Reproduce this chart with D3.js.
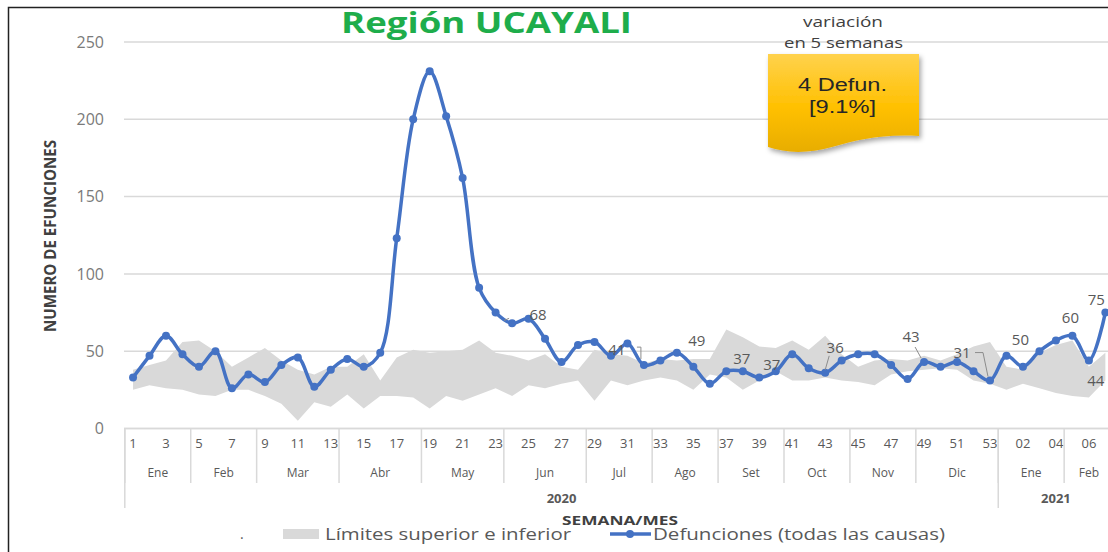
<!DOCTYPE html>
<html>
<head>
<meta charset="utf-8">
<script src="https://cdn.jsdelivr.net/npm/d3@7"></script>
<style>
body { margin: 0; background: #fff; }
svg { font-family: "Open Sans", sans-serif; }
</style>
</head>
<body>
<div id="chart-area"></div>
<script>

// semana epidemiologica (2020: 1-53, 2021: 01-07)
var semanas = ["1","2","3","4","5","6","7","8","9","10","11","12","13","14","15","16","17","18","19","20",
	"21","22","23","24","25","26","27","28","29","30","31","32","33","34","35","36","37","38","39","40",
	"41","42","43","44","45","46","47","48","49","50","51","52","53","01","02","03","04","05","06","07"];

var defunciones = [33,47,60,48,40,50,26,35,30,41, 46,27,38,45,40,49,123,200,231,202,
	162,91,75,68,71,58,43,54,56,47, 55,41,44,49,40,29,37,37,33,37,
	48,39,36,44,48,48,41,32,43,40, 43,37,31,47,40,50,57,60,44,75];

var limiteSuperior = [38,41,44,56,57,50,40,46,52,44, 38,35,40,40,48,31,46,51,49,50,
	51,57,49,47,44,48,40,38,51,48, 47,42,45,44,45,45,64,59,53,52,
	57,51,60,48,40,44,45,44,47,44, 48,53,56,40,38,49,54,57,40,49];

var limiteInferior = [25,28,26,25,22,21,25,25,21,16, 5,17,14,22,13,21,21,20,13,21,
	18,22,26,21,28,26,29,31,18,31, 28,31,33,31,25,35,33,25,31,37,
	31,31,33,31,30,28,35,37,38,39, 38,31,29,25,29,26,23,21,20,31];

var meses = ["Ene","Feb","Mar","Abr","May","Jun","Jul","Ago","Set","Oct","Nov","Dic","Ene","Feb"];
var semanasPorMes = [4,4,5,5,5,5,4,4,4,4,4,5,4,3];

var anios = ["2020","2021"];
var semanasPorAnio = [53,7];

var yTicks = [0,50,100,150,200,250];

// etiquetas de datos (indice de semana)
var etiquetas = [23,31,33,37,39,42,48,52,55,57,58,59];

var width = 1108,
	height = 552;

var svg = d3.select("#chart-area").append("svg")
	.attr("width", width)
	.attr("height", height);

var x = d3.scaleBand()
	.domain(d3.range(semanas.length))
	.range([124.8, 1113.6]);

var y = d3.scaleLinear()
	.domain([0, 250])
	.range([428.5, 42]);

var cx = function(i) { return x(i) + x.bandwidth() / 2; };

// texto estirado horizontalmente como en la imagen original
var addText = function(px, py, txt, size, len, opts) {
	opts = opts || {};
	var t = svg.append("text")
		.attr("x", px).attr("y", py)
		.attr("text-anchor", opts.anchor || "start")
		.attr("fill", opts.fill || "#595959")
		.style("font-size", size + "px")
		.style("font-weight", opts.weight || "normal")
		.text(txt);
	if (opts.family) t.style("font-family", opts.family);
	if (len) t.attr("textLength", len).attr("lengthAdjust", "spacingAndGlyphs");
	return t;
};

// marco
svg.append("rect")
	.attr("x", 8.5).attr("y", 7.5)
	.attr("width", 1120).attr("height", 560)
	.attr("fill", "none")
	.attr("stroke", "#222")
	.attr("stroke-width", 1.5);

// grid
svg.selectAll(".grid")
	.data(yTicks)
	.enter()
	.append("line")
	.attr("class", "grid")
	.attr("x1", 124).attr("x2", 1108)
	.attr("y1", function(d) { return y(d); })
	.attr("y2", function(d) { return y(d); })
	.attr("stroke", "#d9d9d9")
	.attr("stroke-width", 1.5);

var yAxis = d3.axisLeft(y).tickValues(yTicks).tickSize(0).tickPadding(0);
var gy = svg.append("g")
	.attr("transform", "translate(104,0)")
	.call(yAxis);
gy.select(".domain").remove();
gy.selectAll("text")
	.attr("fill", "#7a7a7a")
	.style("font-size", "16px")
	.style("font-family", "Open Sans");

// banda de limites
var area = d3.area()
	.x(function(d, i) { return cx(i); })
	.y0(function(d, i) { return y(limiteInferior[i]); })
	.y1(function(d, i) { return y(limiteSuperior[i]); });

svg.append("path")
	.datum(semanas)
	.attr("d", area)
	.attr("fill", "#d9d9d9");

// eje x
var xAxis = d3.axisBottom(x)
	.tickValues(d3.range(semanas.length).filter(function(i) { return i % 2 === 0; }))
	.tickFormat(function(i) { return semanas[i]; })
	.tickSize(0)
	.tickPadding(0);

var gx = svg.append("g")
	.attr("transform", "translate(0,439)")
	.call(xAxis);
gx.select(".domain").remove();
gx.selectAll("text")
	.attr("fill", "#595959")
	.style("font-size", "13px")
	.style("font-family", "Open Sans");

var monthStart = [];
var acc = 0;
semanasPorMes.forEach(function(n) { monthStart.push(acc); acc += n; });

svg.selectAll(".mes")
	.data(meses)
	.enter()
	.append("text")
	.attr("class", "mes")
	.attr("x", function(d, i) {
		var a = x(monthStart[i]), b = x(monthStart[i] + semanasPorMes[i] - 1) + x.bandwidth();
		return (a + b) / 2;
	})
	.attr("y", 477)
	.attr("text-anchor", "middle")
	.attr("fill", "#595959")
	.style("font-size", "12px")
	.text(function(d) { return d; });

svg.selectAll(".sepMes")
	.data(monthStart)
	.enter()
	.append("line")
	.attr("class", "sepMes")
	.attr("x1", function(d) { return x(d); })
	.attr("x2", function(d) { return x(d); })
	.attr("y1", 428.5).attr("y2", 483)
	.attr("stroke", "#d9d9d9")
	.attr("stroke-width", 1.5);

var yearStart = [0, semanasPorAnio[0]];
svg.selectAll(".sepAnio")
	.data(yearStart)
	.enter()
	.append("line")
	.attr("class", "sepAnio")
	.attr("x1", function(d) { return x(d); })
	.attr("x2", function(d) { return x(d); })
	.attr("y1", 428.5).attr("y2", 508)
	.attr("stroke", "#d9d9d9")
	.attr("stroke-width", 1.5);

svg.selectAll(".anio")
	.data(anios)
	.enter()
	.append("text")
	.attr("class", "anio")
	.attr("x", function(d, i) {
		var a = x(yearStart[i]), b = x(yearStart[i] + semanasPorAnio[i] - 1) + x.bandwidth();
		return (a + b) / 2;
	})
	.attr("y", 503)
	.attr("text-anchor", "middle")
	.attr("fill", "#595959")
	.style("font-size", "13px")
	.style("font-weight", "bold")
	.text(function(d) { return d; });

// linea base
svg.append("line")
	.attr("x1", 124).attr("x2", 1108)
	.attr("y1", 428.5).attr("y2", 428.5)
	.attr("stroke", "#d9d9d9")
	.attr("stroke-width", 1.5);

// linea de defunciones
var line = d3.line()
	.x(function(d, i) { return cx(i); })
	.y(function(d) { return y(d); })
	.curve(d3.curveCatmullRom.alpha(0.5));

svg.append("path")
	.datum(defunciones)
	.attr("d", line)
	.attr("fill", "none")
	.attr("stroke", "#4472c4")
	.attr("stroke-width", 3.5);

svg.selectAll(".punto")
	.data(defunciones)
	.enter()
	.append("circle")
	.attr("class", "punto")
	.attr("cx", function(d, i) { return cx(i); })
	.attr("cy", function(d) { return y(d); })
	.attr("r", 4)
	.attr("fill", "#4472c4");

// etiquetas de datos con desplazamiento
var offset = {23: [26, -9], 31: [-27, -15], 33: [20, -12], 37: [-1, -13], 39: [-4, -7],
	42: [10, -25], 48: [-13, -25], 52: [-28, -28], 55: [-19, -11], 57: [-2, -18], 58: [7, 20], 59: [-9, -13]};

var guias = [
	[[23, -8, -3], [23, -3, -5]],
	[[31, -7, -18], [31, -3, -18], [31, -3, -6]],
	[[42, 4, -17], [42, 0, -3]],
	[[48, -9, -15], [48, -3, -4]],
	[[52, -15, -28], [52, -7, -28], [52, -2, -4]]
];

svg.selectAll(".guia")
	.data(guias)
	.enter()
	.append("polyline")
	.attr("class", "guia")
	.attr("points", function(d) {
		return d.map(function(p) { return (cx(p[0]) + p[1]) + "," + (y(defunciones[p[0]]) + p[2]); }).join(" ");
	})
	.attr("fill", "none")
	.attr("stroke", "#8c8c8c")
	.attr("stroke-width", 1);

svg.selectAll(".etiqueta")
	.data(etiquetas)
	.enter()
	.append("text")
	.attr("class", "etiqueta")
	.attr("x", function(i) { return cx(i) + offset[i][0]; })
	.attr("y", function(i) { return y(defunciones[i]) + offset[i][1]; })
	.attr("dy", "0.35em")
	.attr("text-anchor", "middle")
	.attr("fill", "#595959")
	.style("font-size", "15px")
	.text(function(i) { return defunciones[i]; });

// titulo de ejes
svg.append("text")
	.attr("transform", "translate(56,236) rotate(-90)")
	.attr("text-anchor", "middle")
	.attr("fill", "#404040")
	.attr("textLength", 192)
	.attr("lengthAdjust", "spacingAndGlyphs")
	.style("font-size", "16px")
	.style("font-weight", "bold")
	.text("NUMERO DE EFUNCIONES");

addText(562, 525, "SEMANA/MES", 13, 116, {fill: "#404040", weight: "bold"});

// leyenda
addText(240, 539, ".", 14, null);

svg.append("rect")
	.attr("x", 283).attr("y", 529)
	.attr("width", 36).attr("height", 10)
	.attr("fill", "#d9d9d9");

addText(325, 540, "Límites superior e inferior", 17, 246);

svg.append("line")
	.attr("x1", 610).attr("x2", 651)
	.attr("y1", 534).attr("y2", 534)
	.attr("stroke", "#4472c4")
	.attr("stroke-width", 3.5);

svg.append("circle")
	.attr("cx", 630).attr("cy", 534).attr("r", 4)
	.attr("fill", "#4472c4");

addText(653, 540, "Defunciones (todas las causas)", 17, 292);

// titulo
addText(341, 33, "Región UCAYALI", 29, 291, {fill: "#1ead4b", weight: "bold"});

addText(803, 27, "variación", 14, 80, {fill: "#404040"});
addText(784, 48, "en 5 semanas", 14, 119, {fill: "#404040"});

// recuadro amarillo
var defs = svg.append("defs");
var grad = defs.append("linearGradient")
	.attr("id", "amarillo")
	.attr("x1", 0).attr("y1", 0).attr("x2", 0).attr("y2", 1);
grad.append("stop").attr("offset", "0%").attr("stop-color", "#ffd24d");
grad.append("stop").attr("offset", "55%").attr("stop-color", "#ffc000");
grad.append("stop").attr("offset", "100%").attr("stop-color", "#e8ad00");

var sombra = defs.append("filter").attr("id", "sombra")
	.attr("x", "-20%").attr("y", "-20%").attr("width", "140%").attr("height", "140%");
sombra.append("feDropShadow")
	.attr("dx", 2).attr("dy", 3).attr("stdDeviation", 2.5)
	.attr("flood-color", "#000").attr("flood-opacity", 0.35);

svg.append("path")
	.attr("d", "M768,54 H919 V136 C880,134 858,140 832,147 C806,154 786,153 768,147 Z")
	.attr("fill", "url(#amarillo)")
	.attr("filter", "url(#sombra)");

addText(798, 91, "4 Defun.", 18, 89, {fill: "#262626", family: "Liberation Sans"});
addText(809, 113, "[9.1%]", 18, 67, {fill: "#262626", family: "Liberation Sans"});

</script>
</body>
</html>
